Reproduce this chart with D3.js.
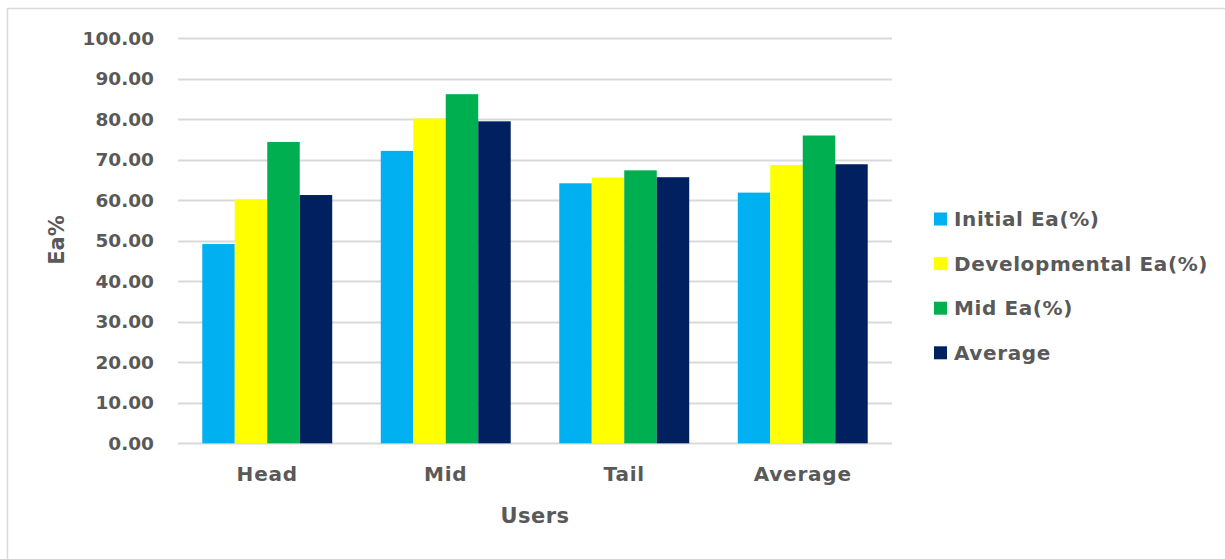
<!DOCTYPE html>
<html>
<head>
<meta charset="utf-8">
<script src="https://cdn.jsdelivr.net/npm/d3@7"></script>
<style>
  html, body { margin: 0; padding: 0; background: #fff; }
  svg { display: block; }
  text { font-family: "DejaVu Sans", sans-serif; font-weight: bold; fill: #595959; }
</style>
</head>
<body>
<svg id="chart" width="1225" height="559"></svg>
<script>
// Efficiency (Ea%) by user group
const categories = ["Head", "Mid", "Tail", "Average"];
const seriesNames = ["Initial Ea(%)", "Developmental Ea(%)", "Mid Ea(%)", "Average"];
const initialEa = [49.2, 72.2, 64.2, 61.9];
const developmentalEa = [60.2, 80.2, 65.6, 68.7];
const midEa = [74.4, 86.2, 67.4, 76.0];
const averageEa = [61.3, 79.5, 65.7, 68.9];
const yTicks = [0, 10, 20, 30, 40, 50, 60, 70, 80, 90, 100];
const colors = ["#00b0f0", "#ffff00", "#00b050", "#002060"];

const seriesValues = [initialEa, developmentalEa, midEa, averageEa];

const svg = d3.select("#chart");
const W = 1225, H = 559;

// outer chart frame
svg.append("rect")
  .attr("x", 7.5).attr("y", 8.5)
  .attr("width", W).attr("height", H)
  .attr("fill", "#fff").attr("stroke", "#d9d9d9").attr("stroke-width", 1.5);

const plot = { left: 178, right: 892, top: 38.3, bottom: 443.3 };

const y = d3.scaleLinear().domain([0, 100]).range([plot.bottom, plot.top]);
const x0 = d3.scaleBand().domain(categories).range([plot.left, plot.right])
  .paddingInner(0.272).paddingOuter(0.136);
const x1 = d3.scaleBand().domain(seriesNames).range([0, x0.bandwidth()]).padding(0);

// gridlines
const grid = svg.append("g");
grid.selectAll("line").data(yTicks).join("line")
  .attr("x1", plot.left).attr("x2", plot.right)
  .attr("y1", d => Math.round(y(d)) + 0.5).attr("y2", d => Math.round(y(d)) + 0.5)
  .attr("stroke", "#d9d9d9").attr("stroke-width", 2);

// y axis labels
const yAxis = d3.axisLeft(y).tickValues(yTicks).tickFormat(d3.format(".2f")).tickSize(0).tickPadding(0);
const yg = svg.append("g").attr("transform", `translate(${154},0)`).call(yAxis);
yg.select(".domain").remove();
yg.selectAll("text").style("font-size", "18.5px")
  .attr("fill", "#595959").attr("font-family", "DejaVu Sans").attr("font-weight", "bold");

// bars
const groups = svg.append("g").selectAll("g").data(categories).join("g")
  .attr("transform", d => `translate(${x0(d)},0)`);
groups.selectAll("rect")
  .data((c, i) => seriesNames.map((s, j) => ({ s, j, v: seriesValues[j][i] })))
  .join("rect")
  .attr("x", d => x1(d.s))
  .attr("width", x1.bandwidth())
  .attr("y", d => y(d.v))
  .attr("height", d => plot.bottom - y(d.v))
  .attr("fill", d => colors[d.j]);

// x axis labels
const xAxis = d3.axisBottom(x0).tickSize(0).tickPadding(0);
const xg = svg.append("g").attr("transform", `translate(0,${467})`).call(xAxis);
xg.select(".domain").remove();
xg.selectAll("text").style("font-size", "20px").style("letter-spacing", "0.8px")
  .attr("fill", "#595959").attr("font-family", "DejaVu Sans").attr("font-weight", "bold");

// axis titles
svg.append("text").attr("x", 535).attr("y", 523).attr("text-anchor", "middle")
  .style("font-size", "21px").style("letter-spacing", "0.5px").text("Users");
svg.append("text").attr("transform", "translate(64,240) rotate(-90)")
  .attr("text-anchor", "middle").style("font-size", "21px").text("Ea%");

// legend
const legend = svg.append("g").selectAll("g").data(seriesNames).join("g")
  .attr("transform", (d, i) => `translate(934,${219 + i * 44.6})`);
legend.append("rect").attr("x", 0).attr("y", -6.5).attr("width", 13).attr("height", 13)
  .attr("fill", (d, i) => colors[i]);
legend.append("text").attr("x", 20).attr("y", 0).attr("dy", "0.36em")
  .style("font-size", "20px").style("letter-spacing", "0.6px").text(d => d);
</script>
</body>
</html>
